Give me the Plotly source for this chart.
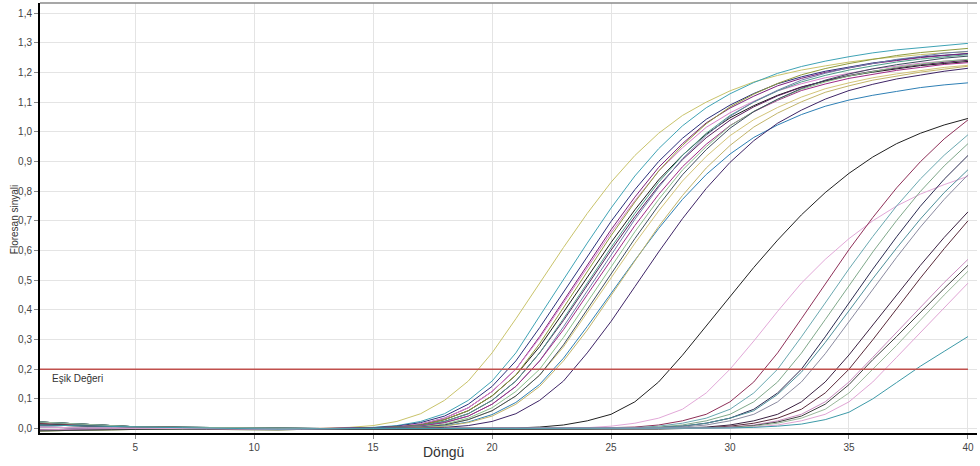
import plotly.graph_objects as go

# ---------------- data ----------------
cycles = list(range(1, 41))
x_tick_vals = [5, 10, 15, 20, 25, 30, 35, 40]
x_tick_text = ["5", "10", "15", "20", "25", "30", "35", "40"]
y_tick_vals = [0.0, 0.1, 0.2, 0.3, 0.4, 0.5, 0.6, 0.7, 0.8, 0.9, 1.0, 1.1, 1.2, 1.3, 1.4]
y_tick_text = ["0,0", "0,1", "0,2", "0,3", "0,4", "0,5", "0,6", "0,7", "0,8", "0,9",
               "1,0", "1,1", "1,2", "1,3", "1,4"]
threshold = 0.2
threshold_label = "Eşik Değeri"
x_title = "Döngü"
y_title = "Floresan sinyali"

# early amplifying samples (cycles 1..40)
E01 = [0.012, 0.010, 0.008, 0.006, 0.005, 0.004, 0.003, 0.002, 0.0, -0.002, -0.002, -0.001,
       0.001, 0.004, 0.010, 0.024, 0.050, 0.095, 0.160, 0.255, 0.370, 0.490, 0.610, 0.725, 0.830, 0.920,
       0.995, 1.055, 1.100, 1.138, 1.168, 1.190, 1.208, 1.222, 1.235, 1.245, 1.253, 1.260, 1.266, 1.270]
E02 = [0.022, 0.018, 0.012, 0.008, 0.006, 0.005, 0.004, 0.003, 0.002, 0.001, 0.0, 0.0,
       0.0, 0.001, 0.004, 0.010, 0.024, 0.050, 0.095, 0.160, 0.255, 0.379, 0.502, 0.625, 0.743, 0.851,
       0.943, 1.020, 1.081, 1.128, 1.166, 1.197, 1.220, 1.238, 1.253, 1.266, 1.276, 1.284, 1.292, 1.298]
E03 = [0.005, 0.003, 0.002, 0.002, 0.001, 0.001, 0.0, 0.0, -0.002, -0.004, -0.003, -0.002,
       0.0, 0.001, 0.003, 0.008, 0.020, 0.042, 0.082, 0.142, 0.228, 0.340, 0.460, 0.580, 0.698, 0.805,
       0.900, 0.978, 1.042, 1.090, 1.129, 1.162, 1.185, 1.204, 1.218, 1.232, 1.242, 1.252, 1.258, 1.264]
E04 = [0.016, 0.012, 0.009, 0.007, 0.006, 0.006, 0.005, 0.004, 0.002, 0.0, -0.002, -0.002,
       0.0, 0.0, 0.002, 0.006, 0.015, 0.035, 0.070, 0.125, 0.200, 0.310, 0.430, 0.550, 0.670, 0.780,
       0.880, 0.960, 1.030, 1.080, 1.120, 1.155, 1.180, 1.200, 1.215, 1.230, 1.240, 1.250, 1.257, 1.263]
E05 = [-0.004, -0.003, -0.002, 0.0, 0.001, 0.002, 0.002, 0.001, 0.0, -0.001, -0.001, 0.0,
       0.0, 0.0, 0.002, 0.006, 0.015, 0.035, 0.070, 0.125, 0.200, 0.305, 0.424, 0.542, 0.660, 0.768,
       0.867, 0.946, 1.015, 1.064, 1.103, 1.138, 1.162, 1.182, 1.197, 1.212, 1.221, 1.231, 1.238, 1.244]
E06 = [0.022, 0.018, 0.012, 0.008, 0.006, 0.005, 0.004, 0.003, 0.002, 0.001, 0.0, 0.0,
       0.0, 0.0, 0.002, 0.005, 0.012, 0.030, 0.060, 0.110, 0.180, 0.276, 0.392, 0.510, 0.627, 0.737,
       0.838, 0.921, 0.992, 1.047, 1.088, 1.123, 1.151, 1.171, 1.188, 1.201, 1.213, 1.223, 1.230, 1.237]
E07 = [-0.008, -0.006, -0.005, -0.004, -0.003, -0.002, -0.002, -0.003, -0.004, -0.005, -0.004, -0.003,
       -0.002, -0.001, 0.002, 0.005, 0.012, 0.030, 0.060, 0.110, 0.180, 0.286, 0.406, 0.528, 0.650, 0.763,
       0.868, 0.954, 1.027, 1.084, 1.127, 1.163, 1.192, 1.213, 1.230, 1.244, 1.257, 1.267, 1.274, 1.281]
E08 = [0.012, 0.010, 0.008, 0.006, 0.005, 0.004, 0.003, 0.002, 0.0, -0.002, -0.002, -0.001,
       0.0, 0.0, 0.001, 0.004, 0.010, 0.024, 0.050, 0.095, 0.160, 0.255, 0.364, 0.483, 0.601, 0.714,
       0.818, 0.906, 0.980, 1.039, 1.084, 1.121, 1.150, 1.172, 1.190, 1.204, 1.216, 1.226, 1.234, 1.241]
E09 = [0.005, 0.003, 0.002, 0.002, 0.001, 0.001, 0.0, 0.0, -0.002, -0.004, -0.003, -0.002,
       0.0, 0.0, 0.001, 0.004, 0.010, 0.024, 0.050, 0.095, 0.160, 0.255, 0.370, 0.490, 0.610, 0.725,
       0.830, 0.920, 0.995, 1.055, 1.100, 1.138, 1.168, 1.190, 1.208, 1.222, 1.235, 1.245, 1.253, 1.260]
E10 = [0.016, 0.012, 0.009, 0.007, 0.006, 0.006, 0.005, 0.004, 0.002, 0.0, -0.002, -0.002,
       0.0, 0.0, 0.001, 0.003, 0.008, 0.020, 0.042, 0.082, 0.142, 0.228, 0.343, 0.465, 0.586, 0.705,
       0.813, 0.909, 0.988, 1.052, 1.101, 1.140, 1.174, 1.197, 1.216, 1.230, 1.244, 1.254, 1.265, 1.271]
E11 = [-0.004, -0.003, -0.002, 0.0, 0.001, 0.002, 0.002, 0.001, 0.0, -0.001, -0.001, 0.0,
       0.0, 0.0, 0.001, 0.003, 0.008, 0.020, 0.042, 0.082, 0.142, 0.228, 0.333, 0.451, 0.568, 0.684,
       0.789, 0.882, 0.958, 1.021, 1.068, 1.106, 1.139, 1.161, 1.180, 1.194, 1.207, 1.217, 1.227, 1.233]
E12 = [0.012, 0.010, 0.008, 0.006, 0.005, 0.004, 0.003, 0.002, 0.0, -0.002, -0.002, -0.001,
       0.0, 0.0, 0.0, 0.002, 0.006, 0.015, 0.035, 0.070, 0.125, 0.200, 0.307, 0.426, 0.545, 0.663,
       0.772, 0.871, 0.950, 1.020, 1.069, 1.109, 1.143, 1.168, 1.188, 1.203, 1.218, 1.228, 1.238, 1.244]
E13 = [-0.008, -0.006, -0.005, -0.004, -0.003, -0.002, -0.002, -0.003, -0.004, -0.005, -0.004, -0.003,
       -0.002, -0.001, 0.0, 0.002, 0.005, 0.012, 0.030, 0.060, 0.110, 0.180, 0.275, 0.390, 0.507, 0.624,
       0.733, 0.834, 0.917, 0.987, 1.041, 1.082, 1.117, 1.145, 1.165, 1.182, 1.195, 1.207, 1.217, 1.224]
E14 = [0.022, 0.018, 0.012, 0.008, 0.006, 0.005, 0.004, 0.003, 0.002, 0.001, 0.0, 0.0,
       0.0, 0.0, 0.0, 0.002, 0.005, 0.012, 0.030, 0.060, 0.110, 0.180, 0.282, 0.400, 0.520, 0.640,
       0.752, 0.855, 0.940, 1.012, 1.068, 1.110, 1.146, 1.174, 1.195, 1.212, 1.226, 1.238, 1.248, 1.255]
E15 = [0.005, 0.003, 0.002, 0.002, 0.001, 0.001, 0.0, 0.0, -0.002, -0.004, -0.003, -0.002,
       -0.001, 0.0, 0.0, 0.001, 0.004, 0.009, 0.022, 0.047, 0.088, 0.149, 0.237, 0.344, 0.456, 0.567,
       0.674, 0.772, 0.856, 0.925, 0.981, 1.023, 1.058, 1.086, 1.107, 1.123, 1.136, 1.149, 1.158, 1.165]
E16 = [0.016, 0.012, 0.009, 0.007, 0.006, 0.006, 0.005, 0.004, 0.002, 0.0, -0.002, -0.002,
       0.0, 0.0, 0.0, 0.001, 0.003, 0.008, 0.020, 0.042, 0.082, 0.142, 0.228, 0.332, 0.449, 0.566,
       0.681, 0.785, 0.878, 0.954, 1.016, 1.063, 1.101, 1.133, 1.155, 1.174, 1.188, 1.201, 1.211, 1.221]
E17 = [-0.004, -0.003, -0.002, 0.0, 0.001, 0.002, 0.002, 0.001, 0.0, -0.001, -0.001, 0.0,
       0.0, 0.0, 0.0, 0.0, 0.001, 0.004, 0.010, 0.024, 0.050, 0.095, 0.160, 0.255, 0.361, 0.478,
       0.595, 0.707, 0.809, 0.897, 0.970, 1.029, 1.073, 1.110, 1.139, 1.160, 1.178, 1.191, 1.204, 1.214]

# late amplifying samples (cycles 1..40)
L01 = [0.022, 0.018, 0.012, 0.008, 0.006, 0.005, 0.004, 0.003, 0.002, 0.001, 0.0, 0.0,
       0.0, 0.0, 0.0, 0.0, 0.0, 0.0, 0.0, 0.0, 0.002, 0.005, 0.012, 0.026, 0.048, 0.090,
       0.157, 0.247, 0.345, 0.445, 0.543, 0.635, 0.720, 0.795, 0.860, 0.915, 0.960, 0.995, 1.023, 1.045]
L02 = [0.005, 0.003, 0.002, 0.002, 0.001, 0.001, 0.0, 0.0, -0.002, -0.004, -0.003, -0.002,
       0.0, 0.0, 0.0, 0.0, 0.0, 0.0, 0.0, 0.0, 0.0, 0.0, 0.001, 0.003, 0.008, 0.018,
       0.035, 0.065, 0.120, 0.200, 0.295, 0.395, 0.490, 0.570, 0.640, 0.700, 0.750, 0.790, 0.822, 0.850]
L03 = [0.016, 0.012, 0.009, 0.007, 0.006, 0.006, 0.005, 0.004, 0.002, 0.0, -0.002, -0.002,
       0.0, 0.0, 0.0, 0.0, 0.0, 0.0, 0.0, 0.0, 0.0, 0.0, 0.0, 0.001, 0.002, 0.005,
       0.012, 0.026, 0.048, 0.090, 0.157, 0.255, 0.370, 0.488, 0.603, 0.711, 0.811, 0.899, 0.976, 1.040]
L04 = [0.012, 0.010, 0.008, 0.006, 0.005, 0.004, 0.003, 0.002, 0.0, -0.002, -0.002, -0.001,
       0.0, 0.0, 0.0, 0.0, 0.0, 0.0, 0.0, 0.0, 0.0, 0.0, 0.0, 0.0, 0.001, 0.003,
       0.008, 0.018, 0.035, 0.065, 0.120, 0.200, 0.309, 0.423, 0.538, 0.647, 0.750, 0.841, 0.921, 0.990]
L05 = [-0.008, -0.006, -0.005, -0.004, -0.003, -0.002, -0.002, -0.003, -0.004, -0.005, -0.004, -0.003,
       -0.002, -0.002, -0.002, -0.002, -0.002, -0.002, -0.002, -0.002, -0.001, -0.001, -0.001, -0.001, 0.001, 0.002,
       0.005, 0.012, 0.026, 0.048, 0.090, 0.157, 0.254, 0.367, 0.482, 0.595, 0.701, 0.799, 0.885, 0.960]
L06 = [-0.004, -0.003, -0.002, 0.0, 0.001, 0.002, 0.002, 0.001, 0.0, -0.001, -0.001, 0.0,
       0.0, 0.0, 0.0, 0.0, 0.0, 0.0, 0.0, 0.0, 0.0, 0.0, 0.0, 0.0, 0.0, 0.001,
       0.003, 0.008, 0.018, 0.035, 0.065, 0.120, 0.200, 0.309, 0.423, 0.537, 0.646, 0.749, 0.840, 0.920]
L07 = [0.022, 0.018, 0.012, 0.008, 0.006, 0.005, 0.004, 0.003, 0.002, 0.001, 0.0, 0.0,
       0.0, 0.0, 0.0, 0.0, 0.0, 0.0, 0.0, 0.0, 0.0, 0.0, 0.0, 0.0, 0.0, 0.001,
       0.003, 0.008, 0.018, 0.035, 0.060, 0.115, 0.190, 0.290, 0.397, 0.505, 0.608, 0.706, 0.795, 0.872]
L08 = [0.005, 0.003, 0.002, 0.002, 0.001, 0.001, 0.0, 0.0, -0.002, -0.004, -0.003, -0.002,
       0.0, 0.0, 0.0, 0.0, 0.0, 0.0, 0.0, 0.0, 0.0, 0.0, 0.0, 0.0, 0.0, 0.001,
       0.002, 0.005, 0.012, 0.026, 0.048, 0.090, 0.157, 0.252, 0.360, 0.470, 0.577, 0.679, 0.772, 0.855]
L09 = [0.012, 0.010, 0.008, 0.006, 0.005, 0.004, 0.003, 0.002, 0.0, -0.002, -0.002, -0.001,
       0.0, 0.0, 0.0, 0.0, 0.0, 0.0, 0.0, 0.0, 0.0, 0.0, 0.0, 0.0, 0.0, 0.0,
       0.001, 0.002, 0.005, 0.012, 0.026, 0.048, 0.090, 0.157, 0.248, 0.348, 0.450, 0.550, 0.644, 0.730]
L10 = [0.016, 0.012, 0.009, 0.007, 0.006, 0.006, 0.005, 0.004, 0.002, 0.0, -0.002, -0.002,
       0.0, 0.0, 0.0, 0.0, 0.0, 0.0, 0.0, 0.0, 0.0, 0.0, 0.0, 0.0, 0.0, 0.0,
       0.0, 0.001, 0.003, 0.008, 0.018, 0.035, 0.065, 0.120, 0.200, 0.299, 0.403, 0.507, 0.606, 0.700]
L11 = [-0.004, -0.003, -0.002, 0.0, 0.001, 0.002, 0.002, 0.001, 0.0, -0.001, -0.001, 0.0,
       0.0, 0.0, 0.0, 0.0, 0.0, 0.0, 0.0, 0.0, 0.0, 0.0, 0.0, 0.0, 0.0, 0.0,
       0.0, 0.001, 0.002, 0.005, 0.012, 0.026, 0.048, 0.090, 0.157, 0.240, 0.323, 0.408, 0.492, 0.570]
L12 = [-0.008, -0.006, -0.005, -0.004, -0.003, -0.002, -0.002, -0.003, -0.004, -0.005, -0.004, -0.003,
       -0.003, -0.003, -0.003, -0.003, -0.003, -0.003, -0.003, -0.003, -0.003, -0.003, -0.002, -0.002, -0.002, -0.002,
       -0.002, 0.0, 0.002, 0.004, 0.010, 0.022, 0.042, 0.082, 0.148, 0.232, 0.310, 0.392, 0.472, 0.550]
L13 = [0.022, 0.018, 0.012, 0.008, 0.006, 0.005, 0.004, 0.003, 0.002, 0.001, 0.0, 0.0,
       0.0, 0.0, 0.0, 0.0, 0.0, 0.0, 0.0, 0.0, 0.0, 0.0, 0.0, 0.0, 0.0, 0.0,
       0.0, 0.0, 0.001, 0.003, 0.008, 0.018, 0.035, 0.065, 0.120, 0.200, 0.280, 0.365, 0.450, 0.530]
L14 = [0.005, 0.003, 0.002, 0.002, 0.001, 0.001, 0.0, 0.0, -0.002, -0.004, -0.003, -0.002,
       0.0, 0.0, 0.0, 0.0, 0.0, 0.0, 0.0, 0.0, 0.0, 0.0, 0.0, 0.0, 0.0, 0.0,
       0.0, 0.0, 0.0, 0.002, 0.005, 0.012, 0.026, 0.048, 0.090, 0.157, 0.240, 0.323, 0.407, 0.490]
L15 = [0.012, 0.010, 0.008, 0.006, 0.005, 0.004, 0.003, 0.002, 0.0, -0.002, -0.002, -0.001,
       0.0, 0.0, 0.0, 0.0, 0.0, 0.0, 0.0, 0.0, 0.0, 0.0, 0.0, 0.0, 0.0, 0.0,
       0.0, 0.0, 0.0, 0.002, 0.004, 0.008, 0.015, 0.030, 0.055, 0.100, 0.155, 0.210, 0.260, 0.310]

samples = [E01, E02, E03, E04, E05, E06, E07, E08, E09, E10, E11, E12, E13, E14, E15, E16, E17,
           L01, L02, L03, L04, L05, L06, L07, L08, L09, L10, L11, L12, L13, L14, L15]
sample_colors = ["#c9c36a", "#3fa3b5", "#2b2f7a", "#7d1f7d", "#d77fc9", "#1a1a1a", "#8f9b3c",
                 "#5a1e5e", "#4f9e8a", "#6f7fa8", "#a02a86", "#8cc08c", "#d3c478", "#3d4d5e",
                 "#2e7fb5", "#c2b46a", "#3e2466",
                 "#202020", "#e2a8d8", "#8e2f58", "#6aa8b0", "#7fa88a", "#2a2a50", "#4e8f9a",
                 "#8a8aa0", "#3a2040", "#5a2a3a", "#c98cbf", "#404040", "#9ab89a", "#e0a4d4",
                 "#3d9aa8"]

# ---------------- figure ----------------
fig = go.Figure()
for vals, col in zip(samples, sample_colors):
    fig.add_trace(go.Scatter(x=cycles, y=vals, mode="lines",
                             line=dict(color=col, width=1),
                             hoverinfo="skip", showlegend=False))

fig.add_trace(go.Scatter(x=[cycles[0], cycles[-1]], y=[threshold, threshold], mode="lines",
                         line=dict(color="#c0504d", width=1.5),
                         hoverinfo="skip", showlegend=False))

font_family = "Liberation Sans, Arial, sans-serif"

fig.update_layout(
    width=980, height=466,
    margin=dict(l=40, r=3, t=3, b=33),
    paper_bgcolor="white", plot_bgcolor="white",
    separators=",.",
    font=dict(family=font_family, size=10, color="#333333"),
    xaxis=dict(range=[1, 40.38], tickmode="array", tickvals=x_tick_vals, ticktext=x_tick_text,
               showgrid=True, gridcolor="#e4e4e4", gridwidth=1, zeroline=False,
               showline=True, linecolor="black", linewidth=2,
               ticks="outside", ticklen=4, tickcolor="#888888",
               tickfont=dict(size=10, color="#444444")),
    yaxis=dict(range=[-0.015, 1.434], tickmode="array", tickvals=y_tick_vals, ticktext=y_tick_text,
               showgrid=True, gridcolor="#e4e4e4", gridwidth=1, zeroline=False,
               showline=True, linecolor="black", linewidth=2,
               ticks="outside", ticklen=4, tickcolor="#888888",
               tickfont=dict(size=10, color="#444444")),
    shapes=[dict(type="line", xref="paper", yref="paper", x0=0, x1=1, y0=1, y1=1,
                 line=dict(color="#8a8a8a", width=1.5))],
    annotations=[
        dict(text=x_title, xref="paper", yref="paper", x=0.431, y=-0.044,
             xanchor="center", yanchor="middle", showarrow=False,
             font=dict(size=14, color="#333333")),
        dict(text=y_title, xref="paper", yref="paper", x=-0.0277, y=0.495, textangle=-90,
             xanchor="center", yanchor="middle", showarrow=False,
             font=dict(size=10, color="#333333")),
        dict(text=threshold_label, xref="x", yref="y", x=1.42, y=0.17,
             xanchor="left", yanchor="middle", showarrow=False,
             font=dict(size=10, color="#333333")),
    ],
)

fig.write_html("out.html", config={"displayModeBar": False})
